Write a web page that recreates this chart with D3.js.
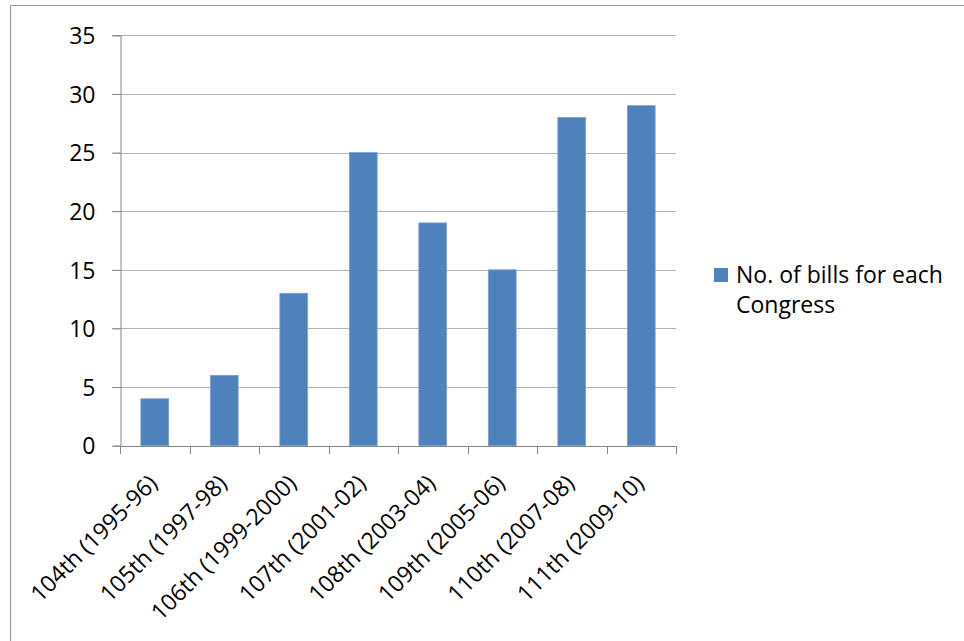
<!DOCTYPE html>
<html>
<head>
<meta charset="utf-8">
<script src="https://cdn.jsdelivr.net/npm/d3@7"></script>
<style>
  html, body { margin: 0; padding: 0; background: #fff; }
  svg { display: block; }
  text { font-family: "Open Sans", "Noto Sans", sans-serif; fill: #000; }
</style>
</head>
<body>
<svg id="chart" width="964" height="641"></svg>
<script>
// Bills introduced per Congress
const congresses = ["104th (1995-96)", "105th (1997-98)", "106th (1999-2000)", "107th (2001-02)",
                    "108th (2003-04)", "109th (2005-06)", "110th (2007-08)", "111th (2009-10)"];
const billCounts = [4, 6, 13, 25, 19, 15, 28, 29];
const yTicks = [0, 5, 10, 15, 20, 25, 30, 35];
const seriesName = ["No. of bills for each", "Congress"];

const svg = d3.select("#chart");
const plot = { left: 120, right: 676, top: 35.3, bottom: 445.7 };
const fontSize = 23;

// outer chart frame (left and top edges)
svg.append("path")
  .attr("d", `M10.5,641 V5.5 H964`)
  .attr("fill", "none").attr("stroke", "#9a9a9a").attr("stroke-width", 1.2);

const x = d3.scaleBand().domain(congresses).range([plot.left, plot.right]).paddingInner(0.6).paddingOuter(0.3);
const xOuter = d3.scaleBand().domain(congresses).range([plot.left, plot.right]);
const y = d3.scaleLinear().domain([0, 35]).range([plot.bottom, plot.top]);

// horizontal gridlines
svg.append("g").selectAll("line").data(yTicks.filter(d => d > 0)).join("line")
  .attr("x1", plot.left - 8).attr("x2", plot.right)
  .attr("y1", d => Math.round(y(d)) + 0.5).attr("y2", d => Math.round(y(d)) + 0.5)
  .attr("stroke", "#b3b3b3").attr("stroke-width", 1);

// y axis
const yAxis = svg.append("g").attr("transform", `translate(${plot.left + 0.5},0)`)
  .call(d3.axisLeft(y).tickValues(yTicks).tickSize(8).tickPadding(17).tickFormat(d3.format("d")));
yAxis.select(".domain").attr("stroke", "#868686");
yAxis.selectAll(".tick line").attr("stroke", "#868686");
yAxis.selectAll(".tick text").attr("font-size", fontSize).attr("font-family", "Open Sans").attr("dy", "0.36em").attr("fill", "#000");

// bars
svg.append("g").selectAll("rect").data(billCounts).join("rect")
  .attr("x", (d, i) => x(congresses[i]))
  .attr("width", x.bandwidth())
  .attr("y", d => y(d))
  .attr("height", d => y(0) - y(d))
  .attr("fill", "#4f81bd").attr("stroke", "#7aa0d0").attr("stroke-width", 0.8);

// x axis baseline and category ticks
const boundaries = congresses.map(c => xOuter(c)).concat([plot.right]);
svg.append("line")
  .attr("x1", plot.left).attr("x2", plot.right)
  .attr("y1", Math.round(plot.bottom) + 0.5).attr("y2", Math.round(plot.bottom) + 0.5)
  .attr("stroke", "#868686");
svg.append("g").selectAll("line").data(boundaries).join("line")
  .attr("x1", d => Math.round(d) + 0.5).attr("x2", d => Math.round(d) + 0.5)
  .attr("y1", Math.round(plot.bottom)).attr("y2", Math.round(plot.bottom) + 8)
  .attr("stroke", "#868686");

// rotated category labels
svg.append("g").selectAll("text").data(congresses).join("text")
  .attr("transform", d => `translate(${xOuter(d) + xOuter.bandwidth() / 2 + 4},${plot.bottom + 39}) rotate(-45)`)
  .attr("text-anchor", "end")
  .attr("font-size", fontSize)
  .text(d => d);

// legend
const legend = svg.append("g");
legend.append("rect").attr("x", 714).attr("y", 268).attr("width", 14).attr("height", 14)
  .attr("fill", "#4f81bd");
legend.append("text").attr("x", 736).attr("y", 283).attr("font-size", fontSize)
  .selectAll("tspan").data(seriesName).join("tspan")
  .attr("x", 736).attr("dy", (d, i) => i === 0 ? 0 : 30)
  .text(d => d);
</script>
</body>
</html>
